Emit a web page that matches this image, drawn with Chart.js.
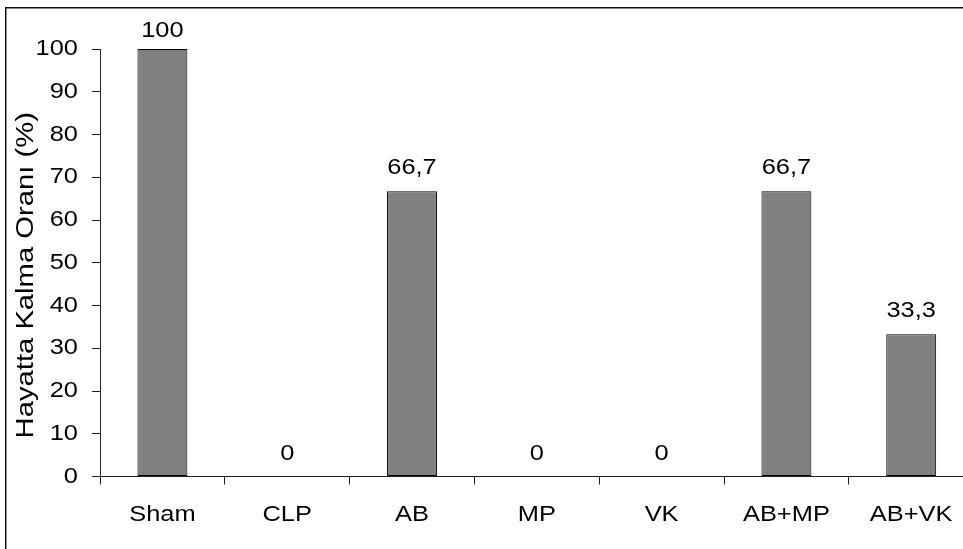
<!DOCTYPE html>
<html lang="tr">
<head>
<meta charset="utf-8">
<title>Hayatta Kalma Oranı</title>
<script src="https://cdn.jsdelivr.net/npm/chart.js@4/dist/chart.umd.min.js"></script>
<style>
  html, body { margin: 0; padding: 0; background: #fff; overflow: hidden; }
  #wrap { position: absolute; left: 0; top: 0; width: 1000px; height: 549px; }
</style>
</head>
<body>
<div id="wrap"><canvas id="chart" width="1000" height="549"></canvas></div>
<script>
// Survival rate per group (%)
const groups = ['Sham', 'CLP', 'AB', 'MP', 'VK', 'AB+MP', 'AB+VK'];
const survival = [100, 0, 66.7, 0, 0, 66.7, 33.3];
const yTicks = [0, 10, 20, 30, 40, 50, 60, 70, 80, 90, 100];
const yTitle = 'Hayatta Kalma Oranı (%)';

const FAMILY = '"Liberation Sans", Arial, sans-serif';
const FONT = { family: FAMILY, size: 22.5 };
const FONT_CSS = `${FONT.size}px ${FAMILY}`;
const TITLE_CSS = `23px ${FAMILY}`;
const INK = '#000';
const AXIS = '#222';

// Text is set wide: glyphs are stretched along the baseline by this factor
let textStretch = 1.13;

// Decimal comma, as in Turkish number formatting
const fmt = v => String(v).replace('.', ',');

// Wide text rendering plus the outer frame (top and left edges)
const framePlugin = {
  id: 'frame',
  beforeDraw(chart) {
    const ctx = chart.ctx;
    if (!ctx.__wideText) {
      const baseFill = CanvasRenderingContext2D.prototype.fillText;
      ctx.fillText = function (text, x, y, maxWidth) {
        this.save();
        this.translate(x, y);
        this.scale(textStretch, 1);
        if (maxWidth === undefined) baseFill.call(this, text, 0, 0);
        else baseFill.call(this, text, 0, 0, maxWidth / textStretch);
        this.restore();
      };
      ctx.__wideText = true;
    }
    ctx.save();
    ctx.strokeStyle = '#111';
    ctx.lineWidth = 1.5;
    ctx.beginPath();
    ctx.moveTo(5.75, chart.height);
    ctx.lineTo(5.75, 7.75);
    ctx.lineTo(chart.width, 7.75);
    ctx.stroke();
    ctx.restore();
  }
};

// Value labels above each bar
const valueLabels = {
  id: 'valueLabels',
  afterDatasetsDraw(chart) {
    const ctx = chart.ctx;
    const meta = chart.getDatasetMeta(0);
    ctx.save();
    ctx.font = FONT_CSS;
    ctx.fillStyle = INK;
    ctx.textAlign = 'center';
    ctx.textBaseline = 'alphabetic';
    meta.data.forEach((bar, i) => {
      // keep the label inside the frame when the bar reaches the top
      const y = Math.max(bar.y - 17, 37);
      ctx.fillText(fmt(survival[i]), bar.x, y);
    });
    ctx.restore();
  }
};

// Rotated y-axis title, drawn beside the tick labels
const yAxisTitle = {
  id: 'yAxisTitle',
  afterDraw(chart) {
    const ctx = chart.ctx;
    const area = chart.chartArea;
    const cy = (area.top + area.bottom) / 2 + 12.5;
    const prev = textStretch;
    textStretch = 1.27;
    ctx.save();
    ctx.font = TITLE_CSS;
    ctx.fillStyle = INK;
    ctx.textAlign = 'center';
    ctx.textBaseline = 'middle';
    ctx.translate(26.8, cy);
    ctx.rotate(-Math.PI / 2);
    ctx.fillText(yTitle, 0, 0);
    ctx.restore();
    textStretch = prev;
  }
};

new Chart(document.getElementById('chart'), {
  type: 'bar',
  data: {
    labels: groups,
    datasets: [{
      data: survival,
      backgroundColor: '#808080',
      borderColor: '#000',
      borderWidth: 1,
      borderSkipped: false,
      barPercentage: 0.4,
      categoryPercentage: 1
    }]
  },
  options: {
    responsive: false,
    animation: false,
    devicePixelRatio: 1,
    layout: { padding: { left: 0, top: 49, right: 26.4, bottom: 0 } },
    plugins: {
      legend: { display: false },
      tooltip: { enabled: false },
      title: { display: false }
    },
    scales: {
      x: {
        offset: true,
        grid: {
          display: true,
          offset: true,
          drawOnChartArea: false,
          drawTicks: true,
          tickLength: 8,
          color: AXIS,
          lineWidth: 1
        },
        border: { display: true, color: AXIS, width: 1 },
        ticks: {
          color: INK,
          font: FONT,
          padding: 17,
          maxRotation: 0,
          autoSkip: false
        },
        afterFit(scale) { scale.height = 72.5; }
      },
      y: {
        min: 0,
        max: 100,
        afterBuildTicks(scale) { scale.ticks = yTicks.map(v => ({ value: v })); },
        grid: {
          display: true,
          drawOnChartArea: false,
          drawTicks: true,
          tickLength: 8,
          color: AXIS,
          lineWidth: 1
        },
        border: { display: true, color: AXIS, width: 1 },
        ticks: {
          color: INK,
          font: FONT,
          padding: 14
        },
        title: { display: false, text: yTitle },
        afterFit(scale) { scale.width = 100; }
      }
    }
  },
  plugins: [framePlugin, valueLabels, yAxisTitle]
});
</script>
</body>
</html>
